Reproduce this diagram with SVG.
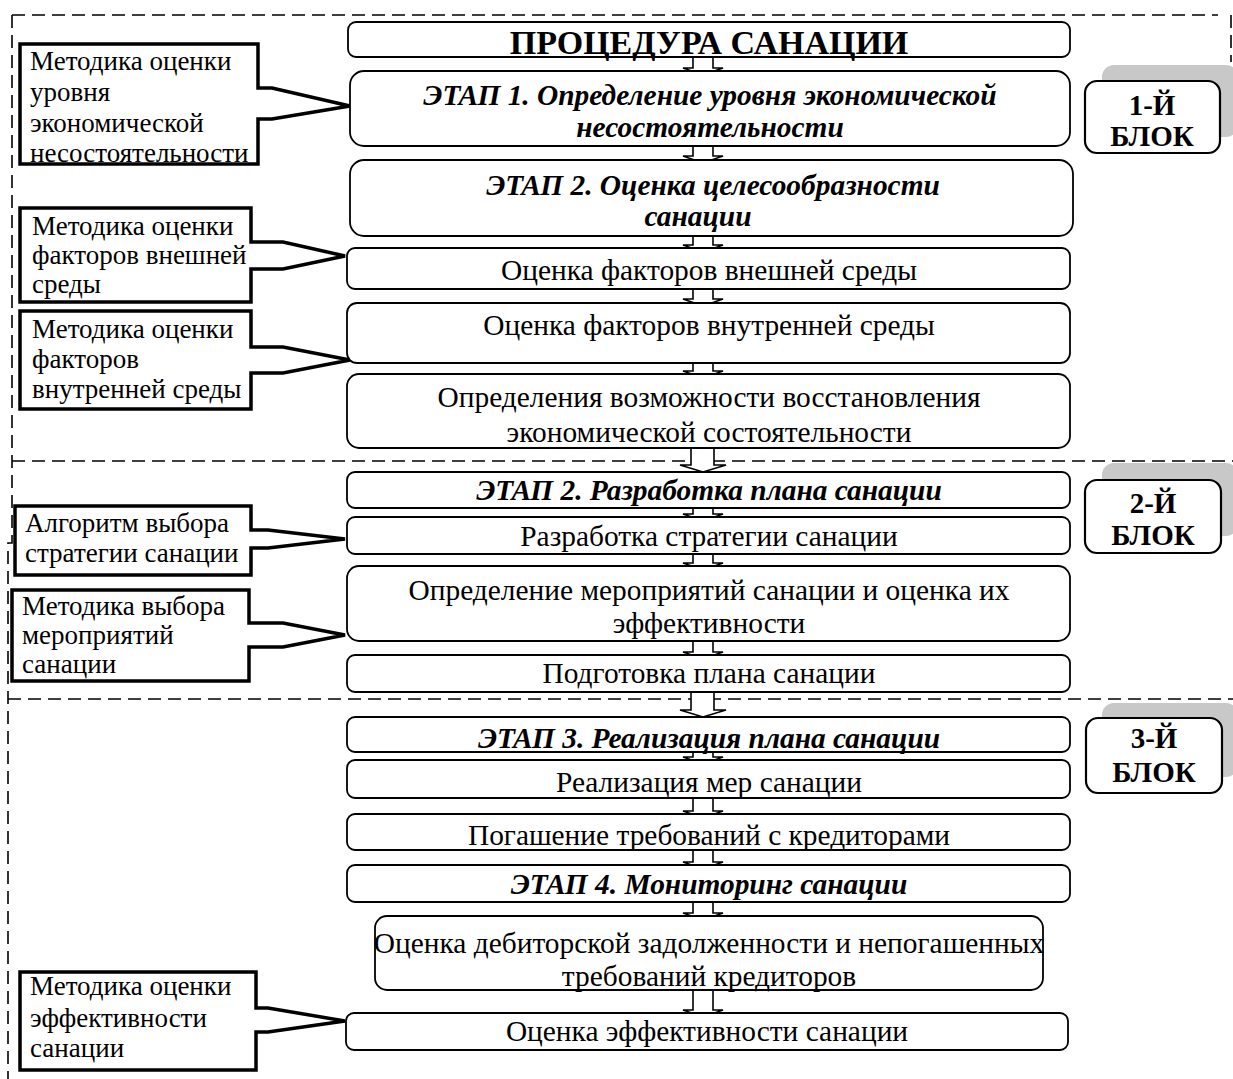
<svg xmlns="http://www.w3.org/2000/svg" width="1233" height="1079" viewBox="0 0 1233 1079">
<style>
.dash{fill:none;stroke:#000;stroke-width:1.6;stroke-dasharray:13 7}
.box{fill:#fff;stroke:#000;stroke-width:1.8}
.arr{fill:#fff;stroke:#000;stroke-width:1.6}
.call{fill:#fff;stroke:#000;stroke-width:3.5;stroke-linejoin:miter}
.shadow{fill:#c8c8c8}
.blk{fill:#fff;stroke:#000;stroke-width:2.2}
text{font-family:"Liberation Serif","Times New Roman",serif;font-size:27px;fill:#000}
.c{text-anchor:middle;font-size:29.4px}
.bi{font-weight:bold;font-style:italic}
.b{font-weight:bold;font-size:34px}
.bl{font-weight:bold;font-size:29px;text-anchor:middle}
</style>
<rect width="1233" height="1079" fill="#fff"/>
<g id="frame">
<path class="dash" d="M12 15 H1218"/>
<path class="dash" d="M1231 15 V62"/>
<path class="dash" d="M12 15 V543 H8 V1079"/>
<path class="dash" d="M12 461 H1233"/>
<path class="dash" d="M8 699 H1233"/>
</g>
<g id="connectors">
<path class="arr" d="M693 57 V68 H683 L703 75 L723 68 H713 V57 Z"/>
<path class="arr" d="M693 146 V156 H683 L703 163 L723 156 H713 V146 Z"/>
<path class="arr" d="M693 236 V245 H683 L703 252 L723 245 H713 V236 Z"/>
<path class="arr" d="M693 289 V299 H683 L703 306 L723 299 H713 V289 Z"/>
<path class="arr" d="M693 363 V371 H683 L703 378 L723 371 H713 V363 Z"/>
<path class="arr" d="M691 448 V465 H680 L703 472 L726 465 H714 V448 Z"/>
<path class="arr" d="M693 508 V514 H683 L703 521 L723 514 H713 V508 Z"/>
<path class="arr" d="M693 554 V563 H683 L703 570 L723 563 H713 V554 Z"/>
<path class="arr" d="M693 641 V652 H683 L703 659 L723 652 H713 V641 Z"/>
<path class="arr" d="M691 692 V710 H680 L703 717 L726 710 H714 V692 Z"/>
<path class="arr" d="M693 752 V757 H683 L703 764 L723 757 H713 V752 Z"/>
<path class="arr" d="M693 798 V811 H683 L703 818 L723 811 H713 V798 Z"/>
<path class="arr" d="M693 850 V862 H683 L703 869 L723 862 H713 V850 Z"/>
<path class="arr" d="M693 902 V913 H683 L703 920 L723 913 H713 V902 Z"/>
<path class="arr" d="M693 990 V1010 H683 L703 1017 L723 1010 H713 V990 Z"/>
</g>
<g id="call1">
<path class="call" d="M258 88 H272 L350 106 L272 119 H258 V164 H20 V44 H258 Z"/>
<text x="30" y="70">Методика оценки</text>
<text x="30" y="101">уровня</text>
<text x="30" y="132">экономической</text>
<text x="30" y="162">несостоятельности</text>
</g>
<g id="call2">
<path class="call" d="M251 242 H283 L345 256 L283 269 H251 V302 H20 V208 H251 Z"/>
<text x="32" y="235">Методика оценки</text>
<text x="32" y="264">факторов внешней</text>
<text x="32" y="293">среды</text>
</g>
<g id="call3">
<path class="call" d="M251 347 H283 L350 360 L283 373 H251 V409 H20 V311 H251 Z"/>
<text x="32" y="338">Методика оценки</text>
<text x="32" y="368">факторов</text>
<text x="32" y="398">внутренней среды</text>
</g>
<g id="call4">
<path class="call" d="M251 530 H268 L345 539 L268 548 H251 V575 H15 V506 H251 Z"/>
<text x="25" y="532">Алгоритм выбора</text>
<text x="25" y="562">стратегии санации</text>
</g>
<g id="call5">
<path class="call" d="M249 623 H283 L345 635 L283 647 H249 V681 H12 V590 H249 Z"/>
<text x="22" y="615">Методика выбора</text>
<text x="22" y="644">мероприятий</text>
<text x="22" y="673">санации</text>
</g>
<g id="call6">
<path class="call" d="M256 1008 H268 L345 1021 L268 1032 H256 V1070 H20 V972 H256 Z"/>
<text x="30" y="995">Методика оценки</text>
<text x="30" y="1027">эффективности</text>
<text x="30" y="1057">санации</text>
</g>
<g id="nA"><rect class="box" x="348" y="22" width="722" height="35" rx="8"/><text class="c b" x="709" y="54">ПРОЦЕДУРА САНАЦИИ</text></g>
<g id="nB"><rect class="box" x="350" y="71" width="720" height="75" rx="14"/><text class="c bi" x="710" y="105">ЭТАП 1. Определение уровня экономической</text><text class="c bi" x="710" y="137">несостоятельности</text></g>
<g id="nC"><rect class="box" x="350" y="160" width="723" height="76" rx="14"/><text class="c bi" x="713" y="195">ЭТАП 2. Оценка целесообразности</text><text class="c bi" x="698" y="226">санации</text></g>
<g id="nD"><rect class="box" x="347" y="248" width="723" height="41" rx="8"/><text class="c" x="709" y="280">Оценка факторов внешней среды</text></g>
<g id="nE"><rect class="box" x="347" y="303" width="723" height="60" rx="10"/><text class="c" x="709" y="335">Оценка факторов внутренней среды</text></g>
<g id="nF"><rect class="box" x="347" y="374" width="723" height="74" rx="12"/><text class="c" x="709" y="407">Определения возможности восстановления</text><text class="c" x="709" y="442">экономической состоятельности</text></g>
<g id="nG"><rect class="box" x="347" y="472" width="723" height="36" rx="8"/><text class="c bi" x="709" y="500">ЭТАП 2. Разработка плана санации</text></g>
<g id="nH"><rect class="box" x="347" y="517" width="723" height="37" rx="8"/><text class="c" x="709" y="546">Разработка стратегии санации</text></g>
<g id="nI"><rect class="box" x="347" y="566" width="723" height="75" rx="12"/><text class="c" x="709" y="600">Определение мероприятий санации и оценка их</text><text class="c" x="709" y="633">эффективности</text></g>
<g id="nJ"><rect class="box" x="347" y="655" width="723" height="37" rx="8"/><text class="c" x="709" y="683">Подготовка плана санации</text></g>
<g id="nK"><rect class="box" x="347" y="717" width="723" height="35" rx="8"/><text class="c bi" x="709" y="748">ЭТАП 3. Реализация плана санации</text></g>
<g id="nL"><rect class="box" x="347" y="760" width="723" height="38" rx="8"/><text class="c" x="709" y="792">Реализация мер санации</text></g>
<g id="nM"><rect class="box" x="347" y="814" width="723" height="36" rx="8"/><text class="c" x="709" y="845">Погашение требований с кредиторами</text></g>
<g id="nN"><rect class="box" x="347" y="865" width="723" height="37" rx="8"/><text class="c bi" x="709" y="894">ЭТАП 4. Мониторинг санации</text></g>
<g id="nO"><rect class="box" x="375" y="916" width="668" height="74" rx="12"/><text class="c" x="709" y="953">Оценка дебиторской задолженности и непогашенных</text><text class="c" x="709" y="986">требований кредиторов</text></g>
<g id="nP"><rect class="box" x="346" y="1013" width="722" height="37" rx="8"/><text class="c" x="707" y="1041">Оценка эффективности санации</text></g>
<g id="block1"><rect class="shadow" x="1102" y="65" width="136" height="72" rx="12"/><rect class="blk" x="1085" y="81" width="135" height="72" rx="12"/><text class="bl" x="1152" y="115">1-Й</text><text class="bl" x="1152" y="146">БЛОК</text></g>
<g id="block2"><rect class="shadow" x="1102" y="463" width="136" height="73" rx="12"/><rect class="blk" x="1085" y="480" width="136" height="73" rx="12"/><text class="bl" x="1153" y="513">2-Й</text><text class="bl" x="1153" y="545">БЛОК</text></g>
<g id="block3"><rect class="shadow" x="1102" y="703" width="136" height="74" rx="12"/><rect class="blk" x="1086" y="718" width="136" height="75" rx="12"/><text class="bl" x="1154" y="748">3-Й</text><text class="bl" x="1154" y="782">БЛОК</text></g>
</svg>
